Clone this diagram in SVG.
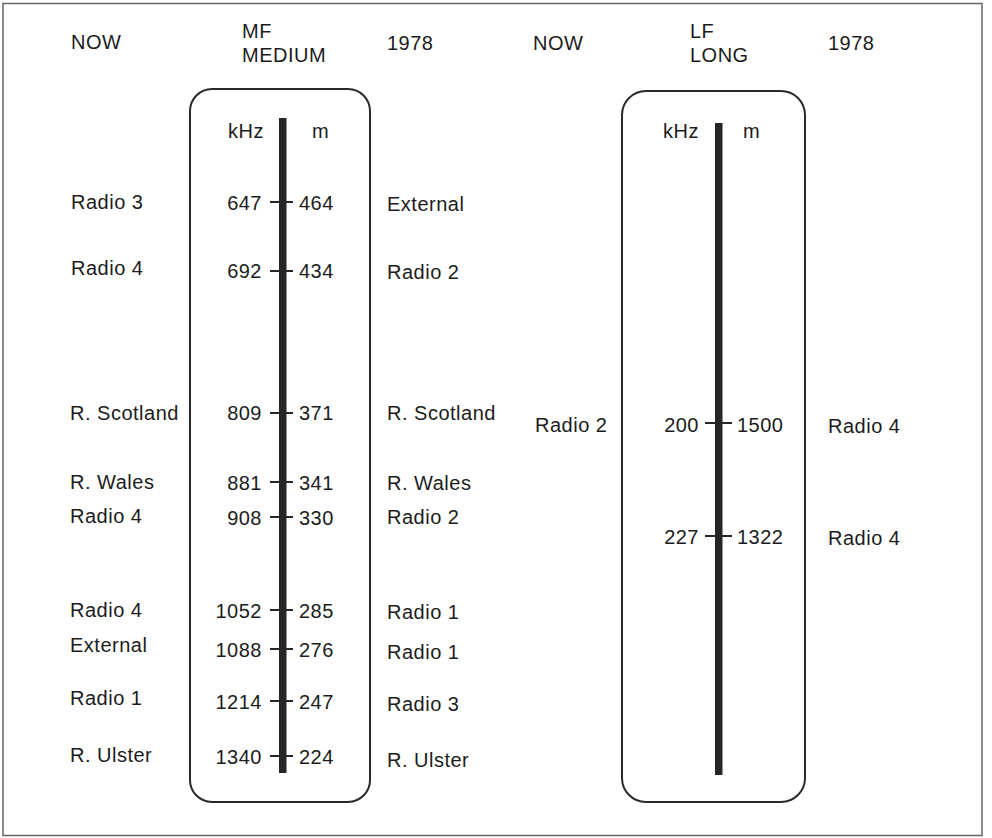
<svg xmlns="http://www.w3.org/2000/svg" width="992" height="838" viewBox="0 0 992 838">
<style>
text{font-family:"Liberation Sans",Arial,sans-serif;font-size:20px;fill:#1c1c1c;letter-spacing:0.5px}
.e{text-anchor:end}
.box{fill:none;stroke:#2a2a2a;stroke-width:2}
.bar{fill:#262626}
.tick{stroke:#262626;stroke-width:2}
</style>
<rect x="3" y="3.5" width="979" height="832" fill="#fff" stroke="#666" stroke-width="1.5"/>
<g id="headers">
<text x="71" y="49">NOW</text>
<text x="242" y="38">MF</text>
<text x="242" y="62">MEDIUM</text>
<text x="387" y="50">1978</text>
<text x="533" y="50">NOW</text>
<text x="690" y="38">LF</text>
<text x="690" y="62">LONG</text>
<text x="828" y="50">1978</text>
</g>
<g id="mf-dial">
<rect class="box" x="190" y="89" width="180" height="713" rx="22"/>
<rect class="bar" x="279" y="118" width="7.5" height="655"/>
<text x="228" y="138">kHz</text>
<text x="312" y="138">m</text>
</g>
<g id="lf-dial">
<rect class="box" x="622" y="91" width="183" height="711" rx="24"/>
<rect class="bar" x="715" y="123" width="7.5" height="652"/>
<text x="663" y="138">kHz</text>
<text x="743" y="138">m</text>
</g>
<g id="mf-ticks">
<line class="tick" x1="270" y1="202" x2="293" y2="202"/>
<line class="tick" x1="270" y1="271" x2="293" y2="271"/>
<line class="tick" x1="270" y1="413" x2="293" y2="413"/>
<line class="tick" x1="270" y1="482" x2="293" y2="482"/>
<line class="tick" x1="270" y1="517" x2="293" y2="517"/>
<line class="tick" x1="270" y1="610" x2="293" y2="610"/>
<line class="tick" x1="270" y1="649" x2="293" y2="649"/>
<line class="tick" x1="270" y1="701" x2="293" y2="701"/>
<line class="tick" x1="270" y1="756" x2="293" y2="756"/>
</g>
<g id="lf-ticks">
<line class="tick" x1="705" y1="423" x2="732" y2="423"/>
<line class="tick" x1="705" y1="536" x2="732" y2="536"/>
</g>
<g id="mf-rows">
<text x="71" y="209">Radio 3</text><text class="e" x="262" y="210">647</text><text x="299" y="210">464</text><text x="387" y="211">External</text>
<text x="71" y="275">Radio 4</text><text class="e" x="262" y="278">692</text><text x="299" y="278">434</text><text x="387" y="279">Radio 2</text>
<text x="70" y="420">R. Scotland</text><text class="e" x="262" y="420">809</text><text x="299" y="420">371</text><text x="387" y="420">R. Scotland</text>
<text x="70" y="489">R. Wales</text><text class="e" x="262" y="490">881</text><text x="299" y="490">341</text><text x="387" y="490">R. Wales</text>
<text x="70" y="523">Radio 4</text><text class="e" x="262" y="525">908</text><text x="299" y="525">330</text><text x="387" y="524">Radio 2</text>
<text x="70" y="617">Radio 4</text><text class="e" x="262" y="618">1052</text><text x="299" y="618">285</text><text x="387" y="619">Radio 1</text>
<text x="70" y="652">External</text><text class="e" x="262" y="657">1088</text><text x="299" y="657">276</text><text x="387" y="659">Radio 1</text>
<text x="70" y="705">Radio 1</text><text class="e" x="262" y="709">1214</text><text x="299" y="709">247</text><text x="387" y="711">Radio 3</text>
<text x="70" y="762">R. Ulster</text><text class="e" x="262" y="764">1340</text><text x="299" y="764">224</text><text x="387" y="767">R. Ulster</text>
</g>
<g id="lf-rows">
<text x="535" y="432">Radio 2</text><text class="e" x="699" y="432">200</text><text x="737" y="432">1500</text><text x="828" y="433">Radio 4</text>
<text class="e" x="699" y="544">227</text><text x="737" y="544">1322</text><text x="828" y="545">Radio 4</text>
</g>
</svg>
